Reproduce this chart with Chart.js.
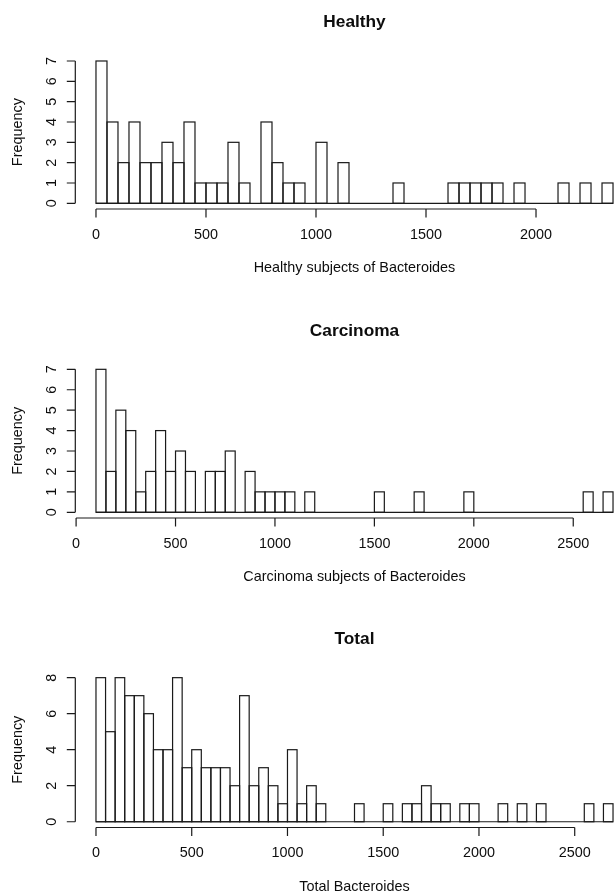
<!DOCTYPE html>
<html>
<head>
<meta charset="utf-8">
<script src="https://cdn.jsdelivr.net/npm/chart.js@4.4.0/dist/chart.umd.min.js"></script>
<style>
  html, body { margin: 0; padding: 0; background: #fff; overflow: hidden; }
  #page { position: relative; width: 615px; height: 896px; overflow: hidden; }
  .panel { position: absolute; left: 0; }
</style>
</head>
<body>
<div id="page">
  <div class="panel" style="top:0px"><canvas id="healthy" width="660" height="298"></canvas></div>
  <div class="panel" style="top:298px"><canvas id="carcinoma" width="660" height="300"></canvas></div>
  <div class="panel" style="top:598px"><canvas id="total" width="660" height="298"></canvas></div>
</div>
<script>
// histogram bins are 50 wide; each counts list starts at its *Start value
const binWidth = 50;

const healthyStart = 0;
const healthyCounts = [7, 4, 2, 4, 2, 2, 3, 2, 4, 1, 1, 1, 3, 1, 0, 4, 2, 1, 1, 0,
                       3, 0, 2, 0, 0, 0, 0, 1, 0, 0, 0, 0, 1, 1, 1, 1, 1, 0, 1, 0,
                       0, 0, 1, 0, 1, 0, 1];

const carcinomaStart = 100;
const carcinomaCounts = [7, 2, 5, 4, 1, 2, 4, 2, 3, 2, 0, 2, 2, 3, 0, 2, 1, 1, 1, 1,
                         0, 1, 0, 0, 0, 0, 0, 0, 1, 0, 0, 0, 1, 0, 0, 0, 0, 1, 0, 0,
                         0, 0, 0, 0, 0, 0, 0, 0, 0, 1, 0, 1];

const totalStart = 0;
const totalCounts = [8, 5, 8, 7, 7, 6, 4, 4, 8, 3, 4, 3, 3, 3, 2, 7, 2, 3, 2, 1,
                     4, 1, 2, 1, 0, 0, 0, 1, 0, 0, 1, 0, 1, 1, 2, 1, 1, 0, 1, 1,
                     0, 0, 1, 0, 1, 0, 1, 0, 0, 0, 0, 1, 0, 1];

const healthyXTicks = [0, 500, 1000, 1500, 2000];
const carcinomaXTicks = [0, 500, 1000, 1500, 2000, 2500];
const totalXTicks = [0, 500, 1000, 1500, 2000, 2500];
const healthyYTicks = [0, 1, 2, 3, 4, 5, 6, 7];
const carcinomaYTicks = [0, 1, 2, 3, 4, 5, 6, 7];
const totalYTicks = [0, 2, 4, 6, 8];

const LINE = '#1a1a1a';
const TEXT = '#0d0d0d';
const FONT = '"Liberation Sans", Arial, sans-serif';

// R-style outlines, axes, baseline and labels around the plot region
const rAxes = {
    id: 'rAxes',
    afterDatasetsDraw(chart, args, o) {
        const ctx = chart.ctx;
        const a = chart.chartArea;
        const x = chart.scales.x, y = chart.scales.y;
        ctx.save();
        ctx.strokeStyle = LINE;
        ctx.lineWidth = 1.2;

        // bar outlines centred on the bin edges, from the bar elements
        const bars = chart.getDatasetMeta(0).data;
        bars.forEach((el, i) => {
            if (!o.counts[i]) return;
            const p = el.getProps(['x', 'y', 'base', 'width']);
            ctx.strokeRect(p.x - p.width / 2, p.y, p.width, p.base - p.y);
        });

        // baseline under every bin, empty ones too
        const y0 = y.getPixelForValue(0);
        ctx.beginPath();
        ctx.moveTo(x.getPixelForValue(o.start), y0);
        ctx.lineTo(x.getPixelForValue(o.start + o.n * binWidth), y0);
        ctx.stroke();

        // x axis
        const xb = a.bottom;
        ctx.beginPath();
        ctx.moveTo(x.getPixelForValue(o.xTicks[0]), xb);
        ctx.lineTo(x.getPixelForValue(o.xTicks[o.xTicks.length - 1]), xb);
        o.xTicks.forEach(t => {
            const px = x.getPixelForValue(t);
            ctx.moveTo(px, xb);
            ctx.lineTo(px, xb + 8.5);
        });
        ctx.stroke();

        // y axis
        const yl = a.left;
        ctx.beginPath();
        ctx.moveTo(yl, y.getPixelForValue(o.yTicks[0]));
        ctx.lineTo(yl, y.getPixelForValue(o.yTicks[o.yTicks.length - 1]));
        o.yTicks.forEach(t => {
            const py = y.getPixelForValue(t);
            ctx.moveTo(yl, py);
            ctx.lineTo(yl - 8.5, py);
        });
        ctx.stroke();

        ctx.fillStyle = TEXT;
        ctx.textAlign = 'center';
        ctx.textBaseline = 'middle';
        ctx.font = '14.4px ' + FONT;
        o.xTicks.forEach(t => {
            ctx.fillText(String(t), x.getPixelForValue(t), xb + 26);
        });
        ctx.fillText(o.xLabel, (a.left + a.right) / 2, xb + 59.5);

        o.yTicks.forEach(t => {
            ctx.save();
            ctx.translate(yl - 23.5, y.getPixelForValue(t));
            ctx.rotate(-Math.PI / 2);
            ctx.fillText(String(t), 0, 0);
            ctx.restore();
        });
        ctx.save();
        ctx.translate(yl - 57, (a.top + a.bottom) / 2);
        ctx.rotate(-Math.PI / 2);
        ctx.fillText('Frequency', 0, 0);
        ctx.restore();

        ctx.font = 'bold 17.3px ' + FONT;
        ctx.fillText(o.title, (a.left + a.right) / 2, a.top - 32.6);
        ctx.restore();
    }
};

function drawHist(id, title, xLabel, start, counts, xTicks, yTicks, pad) {
    const n = counts.length;
    const lo = start, hi = start + n * binWidth;
    const yTop = yTicks[yTicks.length - 1];
    const data = counts.map((c, i) => ({ x: start + i * binWidth + binWidth / 2, y: c }));

    new Chart(document.getElementById(id).getContext('2d'), {
        type: 'bar',
        data: {
            datasets: [{
                data: data,
                backgroundColor: '#ffffff',
                borderWidth: 0,
                barPercentage: 1,
                categoryPercentage: 1
            }]
        },
        options: {
            responsive: false,
            animation: false,
            events: [],
            layout: { padding: pad },
            scales: {
                x: {
                    type: 'linear', display: false, offset: false, bounds: 'data',
                    min: lo - 0.04 * (hi - lo), max: hi + 0.04 * (hi - lo)
                },
                y: {
                    type: 'linear', display: false, bounds: 'data',
                    min: -0.04 * yTop, max: yTop * 1.04
                }
            },
            plugins: {
                legend: { display: false },
                title: { display: false },
                tooltip: { enabled: false },
                rAxes: { title, xLabel, start, n, counts, xTicks, yTicks }
            }
        },
        plugins: [rAxes]
    });
}

drawHist('healthy', 'Healthy', 'Healthy subjects of Bacteroides', healthyStart, healthyCounts,
    healthyXTicks, healthyYTicks, { left: 75.3, right: 26.3, top: 55.3, bottom: 89 });
drawHist('carcinoma', 'Carcinoma', 'Carcinoma subjects of Bacteroides', carcinomaStart, carcinomaCounts,
    carcinomaXTicks, carcinomaYTicks, { left: 75.3, right: 26.3, top: 65.6, bottom: 80 });
drawHist('total', 'Total', 'Total Bacteroides', totalStart, totalCounts,
    totalXTicks, totalYTicks, { left: 75.3, right: 26.3, top: 73.9, bottom: 68.5 });
</script>
</body>
</html>
